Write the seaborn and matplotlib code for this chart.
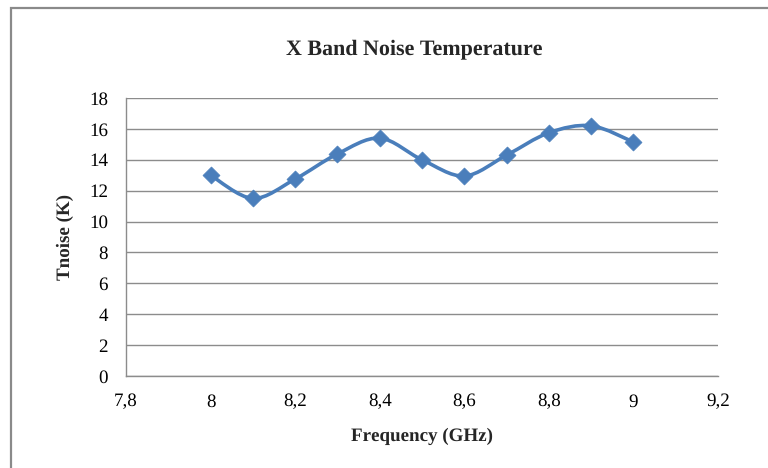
import numpy as np
import matplotlib
matplotlib.use("Agg")
import matplotlib.pyplot as plt
from matplotlib.path import Path
from matplotlib.patches import PathPatch, Rectangle
import seaborn as sns
import pandas as pd

# Measured noise temperature across the X band
freq_ghz = [8.0, 8.1, 8.2, 8.3, 8.4, 8.5, 8.6, 8.7, 8.8, 8.9, 9.0]
tnoise_k = [13.0, 11.5, 12.75, 14.38, 15.4, 14.0, 12.95, 14.3, 15.75, 16.2, 15.15]

x_ticks = [7.8, 8.0, 8.2, 8.4, 8.6, 8.8, 9.0, 9.2]
x_tick_labels = ["7,8", "8", "8,2", "8,4", "8,6", "8,8", "9", "9,2"]
y_ticks = [0, 2, 4, 6, 8, 10, 12, 14, 16, 18]

title = "X Band Noise Temperature"
x_label = "Frequency (GHz)"
y_label = "Tnoise (K)"

LINE_BLUE = "#4A7EBB"
GRID_GRAY = "#8C8C8C"

sns.set_theme(style="white")
plt.rcParams["font.family"] = "Liberation Serif"
plt.rcParams["text.hinting"] = "no_hinting"
plt.rcParams["text.hinting_factor"] = 1

df = pd.DataFrame({"freq": freq_ghz, "tnoise": tnoise_k})

W, H = 768, 468
fig = plt.figure(figsize=(W / 100, H / 100), dpi=100)
ax = fig.add_axes([126 / W, 1 - 376 / H, (718 - 126) / W, (376 - 98) / H])

# Smoothed connecting curve: cubic Bezier segments through the points
pts = np.column_stack([df["freq"].to_numpy(), df["tnoise"].to_numpy()])
n = len(pts)
verts = [tuple(pts[0])]
codes = [Path.MOVETO]
for i in range(n - 1):
    p_prev = pts[max(i - 1, 0)]
    p0 = pts[i]
    p1 = pts[i + 1]
    p_next = pts[min(i + 2, n - 1)]
    c1 = p0 + (p1 - p_prev) / 6.0
    c2 = p1 - (p_next - p0) / 6.0
    verts += [tuple(c1), tuple(c2), tuple(p1)]
    codes += [Path.CURVE4] * 3
curve = PathPatch(Path(verts, codes), facecolor="none", edgecolor=LINE_BLUE,
                  linewidth=2.6, capstyle="round", joinstyle="round", zorder=3)
ax.add_patch(curve)

sns.scatterplot(data=df, x="freq", y="tnoise", marker="D", s=75,
                color=LINE_BLUE, edgecolor=LINE_BLUE, linewidth=0.5,
                ax=ax, zorder=4, legend=False)

ax.set_xlim(7.8, 9.2)
ax.set_ylim(0, 18)
ax.set_xticks(x_ticks)
ax.set_xticklabels(x_tick_labels)
ax.set_yticks(y_ticks)

ax.yaxis.grid(True, color=GRID_GRAY, linewidth=1.0)
ax.xaxis.grid(False)
ax.set_axisbelow(True)
for side in ("top", "right"):
    ax.spines[side].set_visible(False)
for side in ("left", "bottom"):
    ax.spines[side].set_color(GRID_GRAY)
    ax.spines[side].set_linewidth(1.0)

ax.tick_params(axis="both", length=0, labelsize=14, colors="black")
ax.tick_params(axis="y", pad=13)
ax.tick_params(axis="x", pad=22)
# keep all x tick labels on one baseline
for lbl in ax.get_xticklabels():
    lbl.set_verticalalignment("baseline")

ax.set_xlabel(x_label, fontsize=13.5, fontweight="bold", labelpad=12)
ax.set_ylabel(y_label, fontsize=13.5, fontweight="bold", labelpad=11)

fig.text(414 / W, 1 - 49 / H, title, ha="center", va="center",
         fontsize=15.5, fontweight="bold")

# Chart frame
fig.patches.append(Rectangle((10.5 / W, -0.1), 1.2, 1.1 - 8.5 / H,
                             transform=fig.transFigure, facecolor="none",
                             edgecolor="#8A8A8A", linewidth=1.6, zorder=0))

fig.savefig("out.png", dpi=100)
